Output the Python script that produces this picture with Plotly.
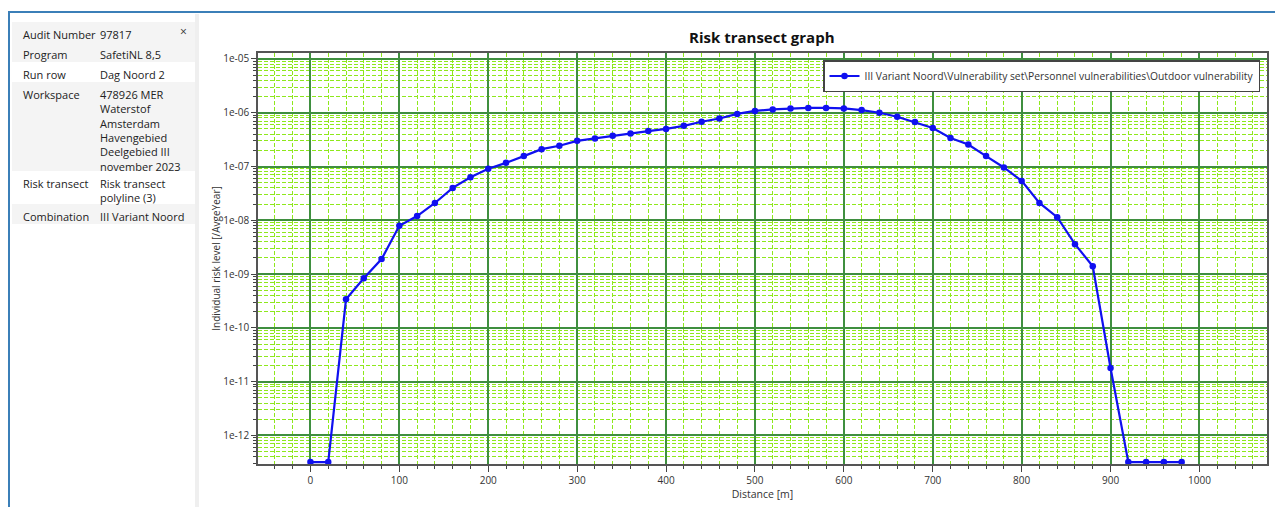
import plotly.graph_objects as go

# data
distance = [0, 20, 40, 60, 80, 100, 120, 140, 160, 180, 200, 220, 240, 260, 280,
            300, 320, 340, 360, 380, 400, 420, 440, 460, 480, 500, 520, 540, 560,
            580, 600, 620, 640, 660, 680, 700, 720, 740, 760, 780, 800, 820, 840,
            860, 880, 900, 920, 940, 960, 980]
risk = [3.2e-13, 3.2e-13, 3.4e-10, 8.4e-10, 1.9e-09, 7.9e-09, 1.2e-08, 2.1e-08,
        4.0e-08, 6.3e-08, 9.1e-08, 1.17e-07, 1.56e-07, 2.1e-07, 2.43e-07, 3.0e-07,
        3.33e-07, 3.72e-07, 4.12e-07, 4.55e-07, 5.0e-07, 5.7e-07, 6.8e-07, 7.8e-07,
        9.5e-07, 1.08e-06, 1.15e-06, 1.2e-06, 1.23e-06, 1.23e-06, 1.2e-06, 1.12e-06,
        1.0e-06, 8.4e-07, 6.7e-07, 5.2e-07, 3.4e-07, 2.57e-07, 1.56e-07, 9.6e-08,
        5.4e-08, 2.1e-08, 1.14e-08, 3.6e-09, 1.4e-09, 1.8e-11, 3.2e-13, 3.2e-13,
        3.2e-13, 3.2e-13]
series_name = "III Variant Noord\\Vulnerability set\\Personnel vulnerabilities\\Outdoor vulnerability"

y_tickvals = [1e-12, 1e-11, 1e-10, 1e-09, 1e-08, 1e-07, 1e-06, 1e-05]
y_ticktext = ["1e-12", "1e-11", "1e-10", "1e-09", "1e-08", "1e-07", "1e-06", "1e-05"]
x_tickvals = [0, 100, 200, 300, 400, 500, 600, 700, 800, 900, 1000]

# side panel
panel_labels = ["Audit Number", "Program", "Run row", "Workspace", "Risk transect", "Combination"]
panel_values = ["97817", "SafetiNL 8,5", "Dag Noord 2",
                "478926 MER<br>Waterstof<br>Amsterdam<br>Havengebied<br>Deelgebied III<br>november 2023",
                "Risk transect<br>polyline (3)", "III Variant Noord"]

# page body has an 8px margin, so the figure is drawn 8px smaller and shifted
OFF = 8
W, H = 1283 - OFF, 507 - OFF
FONT = "Segoe UI, Open Sans, sans-serif"


def px(x):
    return (x - OFF) / W


def py(y):
    return 1 - (y - OFF) / H


# row boxes of the side panel (top, bottom in px) and whether shaded
row_bounds = [(22, 42, True), (42, 62, True), (62, 82, False), (82, 171, True),
              (171, 204, False), (204, 224, True)]

fig = go.Figure(
    go.Scatter(
        x=distance,
        y=risk,
        mode="lines+markers",
        name=series_name,
        line=dict(color="#1010f0", width=2.2),
        marker=dict(color="#1010f0", size=6.5),
    )
)

shapes = []
annotations = []

# outer blue frame + panel background
shapes.append(dict(type="rect", xref="paper", yref="paper", x0=px(9), x1=px(1278),
                   y0=py(512), y1=py(12), line=dict(color="#3b7fb8", width=2),
                   fillcolor="white", layer="below"))
shapes.append(dict(type="rect", xref="paper", yref="paper", x0=px(195), x1=px(199),
                   y0=py(507), y1=py(14), line=dict(width=0),
                   fillcolor="#efefef", layer="below"))
for (top, bottom, shaded), lab, val in zip(row_bounds, panel_labels, panel_values):
    if shaded:
        shapes.append(dict(type="rect", xref="paper", yref="paper", x0=px(12), x1=px(195),
                           y0=py(bottom), y1=py(top), line=dict(width=0),
                           fillcolor="#f4f4f4", layer="below"))
    annotations.append(dict(text=lab, x=px(21), y=py(top + 3), xref="paper", yref="paper",
                            xanchor="left", yanchor="top", showarrow=False,
                            font=dict(family=FONT, size=11, color="#222")))
    annotations.append(dict(text=val, x=px(98), y=py(top + 3), xref="paper", yref="paper",
                            xanchor="left", yanchor="top", showarrow=False, align="left",
                            font=dict(family=FONT, size=11, color="#222")))
annotations.append(dict(text="×", x=px(183), y=py(31), xref="paper", yref="paper",
                        xanchor="center", yanchor="middle", showarrow=False,
                        font=dict(family=FONT, size=12, color="#333")))

# title
annotations.append(dict(text="<b>Risk transect graph</b>", x=px(762), y=py(37),
                        xref="paper", yref="paper", xanchor="center", yanchor="middle",
                        showarrow=False, font=dict(family=FONT, size=15, color="#111")))

major_grid = "#3f8f3f"
minor_grid = "#8ee81c"

fig.update_layout(
    width=W,
    height=H,
    autosize=False,
    margin=dict(l=0, r=0, t=0, b=0),
    paper_bgcolor="white",
    plot_bgcolor="white",
    font=dict(family=FONT, size=10, color="#333"),
    shapes=shapes,
    annotations=annotations,
    showlegend=True,
    legend=dict(
        x=px(1260), y=py(60), xanchor="right", yanchor="top",
        bgcolor="white", bordercolor="#444", borderwidth=1.5,
        font=dict(family=FONT, size=10.3, color="#333"),
    ),
    xaxis=dict(
        domain=[px(258), px(1267)],
        range=[-59, 1076],
        tickvals=x_tickvals,
        ticks="outside", ticklen=6, tickcolor="#444",
        showgrid=True, gridcolor=major_grid, gridwidth=1.5,
        zeroline=False,
        showline=True, linecolor="#555", linewidth=1.5, mirror=True,
        minor=dict(dtick=20, showgrid=True, gridcolor=minor_grid, griddash="4px,2px",
                   gridwidth=1, ticks="outside", ticklen=3, tickcolor="#444"),
        title=dict(text="Distance [m]", standoff=2, font=dict(size=10.5)),
        tickfont=dict(size=10),
        automargin=False,
    ),
    yaxis=dict(
        domain=[py(464), py(53)],
        type="log",
        range=[-12.53, -4.89],
        tickvals=y_tickvals,
        ticktext=y_ticktext,
        ticks="outside", ticklen=5, tickcolor="#444",
        showgrid=True, gridcolor=major_grid, gridwidth=1.5,
        zeroline=False,
        showline=True, linecolor="#555", linewidth=1.5, mirror=True,
        minor=dict(dtick="D1", showgrid=True, gridcolor=minor_grid, griddash="4px,2px",
                   gridwidth=1, ticks="outside", ticklen=3, tickcolor="#444"),
        title=dict(text="Individual risk level [/AvgeYear]", standoff=1, font=dict(size=10)),
        tickfont=dict(size=10),
        automargin=False,
    ),
)

fig.write_html("out.html")
